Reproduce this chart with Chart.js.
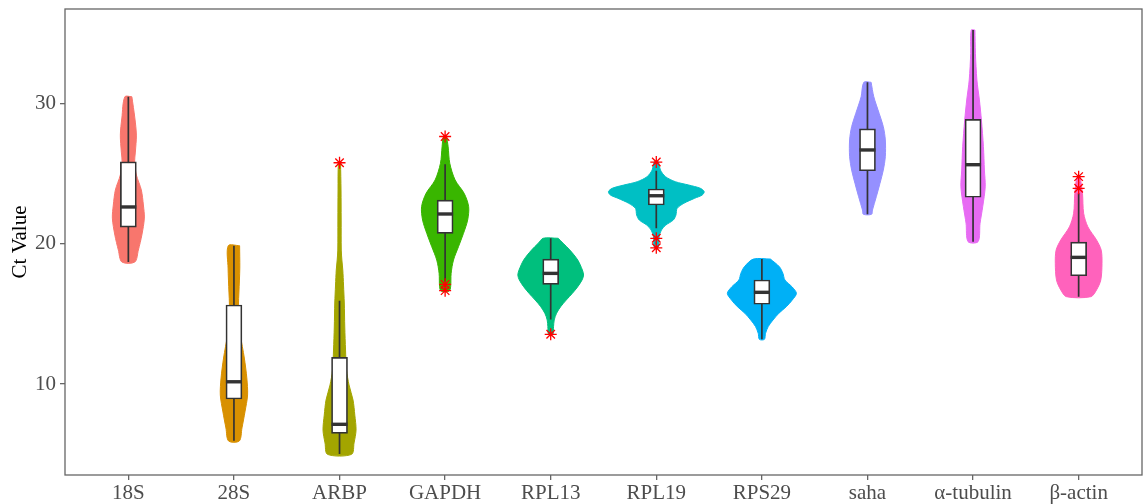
<!DOCTYPE html>
<html>
<head>
<meta charset="utf-8">
<script src="https://cdn.jsdelivr.net/npm/chart.js@4.4.1/dist/chart.umd.min.js"></script>
<style>
  html, body { margin: 0; padding: 0; background: #ffffff; }
  canvas { display: block; }
</style>
</head>
<body>
<canvas id="chart" width="1146" height="504"></canvas>
<script>
// Reference genes and their fill colours
const genes = ['18S', '28S', 'ARBP', 'GAPDH', 'RPL13', 'RPL19', 'RPS29', 'saha', 'α-tubulin', 'β-actin'];
const geneColors = ['#F8766D', '#D89000', '#A3A500', '#39B600', '#00BF7D', '#00BFC4', '#00B0F6', '#9590FF', '#E76BF3', '#FF62BC'];
const yTicks = [10, 20, 30];

// Box-plot summaries (Ct)
const whiskerLow  = [18.69, 5.96, 5.01, 17.30, 14.60, 21.09, 13.18, 22.09, 20.14, 16.22];
const q1          = [21.18, 8.93, 6.49, 20.73, 17.10, 22.75, 15.68, 25.19, 23.30, 17.71];
const median      = [22.61, 10.16, 7.13, 22.11, 17.88, 23.41, 16.53, 26.67, 25.62, 19.02];
const q3          = [25.83, 15.63, 11.90, 23.10, 18.90, 23.89, 17.41, 28.18, 28.85, 20.11];
const whiskerHigh = [30.46, 19.85, 15.93, 25.65, 20.38, 25.19, 18.90, 31.49, 35.21, 23.58];
const outliers = [
  [], [], [25.76], [27.63, 17.10, 16.65], [13.54],
  [25.81, 20.38, 19.70], [], [], [], [24.77, 23.94]
];

// Density outlines: Ct levels from top to bottom and relative density (100 = widest violin)
const violinCt = [
  [30.46, 28.95, 27.73, 26.52, 25.81, 24.89, 23.82, 22.75, 21.82, 20.61, 19.54, 18.69],
  [19.85, 18.26, 16.55, 15.63, 14.56, 13.49, 11.85, 10.43, 9.22, 8.01, 6.87, 5.94],
  [25.76, 23.82, 21.68, 19.54, 18.83, 18.12, 17.05, 15.77, 14.06, 12.42, 11.00, 9.93, 8.86, 7.79, 6.72, 5.80, 4.99],
  [27.66, 26.90, 25.72, 24.53, 23.58, 22.63, 21.68, 20.73, 19.78, 18.83, 17.88, 16.93, 16.62],
  [20.38, 20.02, 19.54, 18.83, 18.12, 17.76, 17.41, 16.93, 16.46, 15.98, 15.51, 15.04, 14.56, 14.08, 13.54],
  [25.83, 25.71, 25.24, 24.77, 24.41, 24.17, 23.94, 23.70, 23.46, 23.23, 22.87, 22.51, 22.04, 21.68, 21.32, 20.97, 20.49, 19.74],
  [18.90, 18.35, 17.88, 17.41, 16.93, 16.46, 15.98, 15.51, 15.04, 14.56, 14.09, 13.61, 13.18],
  [31.49, 30.46, 29.28, 28.33, 27.38, 26.19, 25.24, 24.29, 23.34, 22.39, 22.09],
  [35.21, 33.55, 31.65, 30.23, 28.80, 26.90, 25.24, 24.05, 22.63, 21.45, 20.14],
  [24.77, 23.58, 22.16, 21.20, 20.26, 19.54, 18.60, 17.41, 16.70, 16.22]
];
const violinDensity = [
  [7.3, 13.5, 16.7, 14.6, 13.0, 16.7, 27.0, 31.3, 33.3, 28.1, 20.8, 13.5],
  [11.8, 12.2, 10.4, 9.4, 10.9, 13.5, 21.6, 26.8, 28.4, 22.9, 16.7, 11.1],
  [2.1, 3.1, 3.4, 3.6, 4.9, 6.8, 8.3, 9.9, 10.9, 12.5, 14.6, 19.8, 28.1, 31.8, 34.4, 30.2, 25.0],
  [3.1, 6.3, 9.7, 20.8, 39.6, 49.0, 46.9, 38.2, 27.8, 17.4, 12.5, 11.5, 8.3],
  [15.6, 26.0, 39.9, 56.3, 65.9, 68.4, 65.3, 56.3, 45.1, 32.3, 20.8, 12.2, 7.3, 5.9, 4.5],
  [4.2, 5.5, 8.6, 19.1, 39.6, 67.7, 91.7, 99.7, 95.5, 79.9, 57.3, 43.4, 40.9, 35.4, 19.8, 10.7, 5.9, 4.2],
  [17.7, 36.5, 43.8, 47.9, 62.5, 71.9, 63.2, 51.0, 35.4, 23.2, 13.2, 7.6, 5.2],
  [7.6, 13.2, 24.3, 33.0, 37.2, 37.2, 33.0, 26.0, 18.4, 10.4, 8.6],
  [3.9, 4.9, 8.0, 13.2, 17.4, 21.6, 23.6, 25.3, 20.1, 14.6, 10.4],
  [3.1, 8.0, 10.4, 19.1, 37.2, 46.9, 48.6, 46.1, 37.2, 25.3]
];

const SERIF = '"Liberation Serif", "Times New Roman", serif';
const INK = '#333333';
const FRAME = '#666666';
const VIOLIN_HALF = 0.455; // half-width (category units) of a density of 100

// Closed outline: right edge top→bottom, left edge bottom→top, back to start
function violinOutline(i) {
  const c = i + 1;
  const right = violinCt[i].map((y, k) => ({ x: c + violinDensity[i][k] / 100 * VIOLIN_HALF, y }));
  const left = violinCt[i].map((y, k) => ({ x: c - violinDensity[i][k] / 100 * VIOLIN_HALF, y })).reverse();
  return right.concat(left, [right[0]]);
}

const violinSets = genes.map((g, i) => ({
  type: 'scatter',
  label: g,
  data: violinOutline(i),
  showLine: true,
  fill: 'shape',
  tension: 0.3,
  backgroundColor: geneColors[i],
  borderColor: geneColors[i],
  borderWidth: 1,
  pointRadius: 0,
  order: 5
}));

const whiskerSet = {
  type: 'scatter',
  data: genes.flatMap((g, i) => [
    { x: i + 1, y: whiskerLow[i] },
    { x: i + 1, y: whiskerHigh[i] },
    { x: i + 1, y: null }
  ]),
  showLine: true,
  spanGaps: false,
  borderColor: INK,
  borderWidth: 1.7,
  pointRadius: 0,
  order: 4
};

const boxSet = {
  type: 'bar',
  data: genes.map((g, i) => ({ x: i + 1, y: [q1[i], q3[i]] })),
  backgroundColor: '#ffffff',
  borderColor: INK,
  borderWidth: 1.7,
  borderSkipped: false,
  barThickness: 16,
  order: 3
};

const medianSet = {
  type: 'scatter',
  data: genes.map((g, i) => ({ x: i + 1, y: median[i] })),
  pointStyle: 'line',
  pointRadius: 8,
  pointBorderWidth: 3.4,
  borderWidth: 3.4,
  pointBorderColor: INK,
  borderColor: INK,
  order: 2
};

const outlierSet = {
  type: 'scatter',
  data: genes.flatMap((g, i) => outliers[i].map(v => ({ x: i + 1, y: v }))),
  pointStyle: 'star',
  pointRadius: 6,
  pointBorderWidth: 1.3,
  borderWidth: 1.3,
  pointBorderColor: '#FF0000',
  borderColor: '#FF0000',
  order: 1
};

// Panel border around the plotting area
const panelFrame = {
  id: 'panelFrame',
  afterDraw(chart) {
    const { ctx, chartArea: a } = chart;
    ctx.save();
    ctx.strokeStyle = FRAME;
    ctx.lineWidth = 1.3;
    ctx.strokeRect(a.left, a.top, a.right - a.left, a.bottom - a.top);
    ctx.restore();
  }
};

function noEdgePadding(s) {
  s.paddingTop = 0;
  s.paddingBottom = 0;
  s.paddingLeft = 0;
  s.paddingRight = 0;
}

new Chart(document.getElementById('chart'), {
  type: 'scatter',
  data: { datasets: [...violinSets, whiskerSet, boxSet, medianSet, outlierSet] },
  options: {
    responsive: false,
    devicePixelRatio: 1,
    animation: false,
    events: [],
    layout: { autoPadding: false, padding: { left: 0, right: 4, top: 9, bottom: 0 } },
    plugins: { legend: { display: false }, tooltip: { enabled: false } },
    scales: {
      x: {
        type: 'linear',
        min: 0.4,
        max: 10.6,
        offset: false,
        afterBuildTicks: s => { s.ticks = genes.map((g, i) => ({ value: i + 1 })); },
        afterFit: s => { s.height = 29; noEdgePadding(s); },
        ticks: {
          callback: (v, idx) => genes[idx],
          autoSkip: false,
          maxRotation: 0,
          padding: 3,
          color: '#4D4D4D',
          font: { family: SERIF, size: 21, lineHeight: 1 }
        },
        grid: { display: true, offset: false, drawOnChartArea: false, drawTicks: true, tickLength: 5, color: FRAME, lineWidth: 1.3 },
        border: { display: false }
      },
      y: {
        type: 'linear',
        min: 3.52,
        max: 36.71,
        afterBuildTicks: s => { s.ticks = yTicks.map(v => ({ value: v })); },
        afterFit: s => { s.width = 65; noEdgePadding(s); },
        ticks: {
          padding: 4,
          color: '#4D4D4D',
          font: { family: SERIF, size: 21 }
        },
        grid: { display: true, offset: false, drawOnChartArea: false, drawTicks: true, tickLength: 5, color: FRAME, lineWidth: 1.3 },
        border: { display: false },
        title: {
          display: true,
          text: 'Ct Value',
          color: '#000000',
          padding: { top: 8, bottom: 0 },
          font: { family: SERIF, size: 21 }
        }
      }
    }
  },
  plugins: [panelFrame]
});
</script>
</body>
</html>
